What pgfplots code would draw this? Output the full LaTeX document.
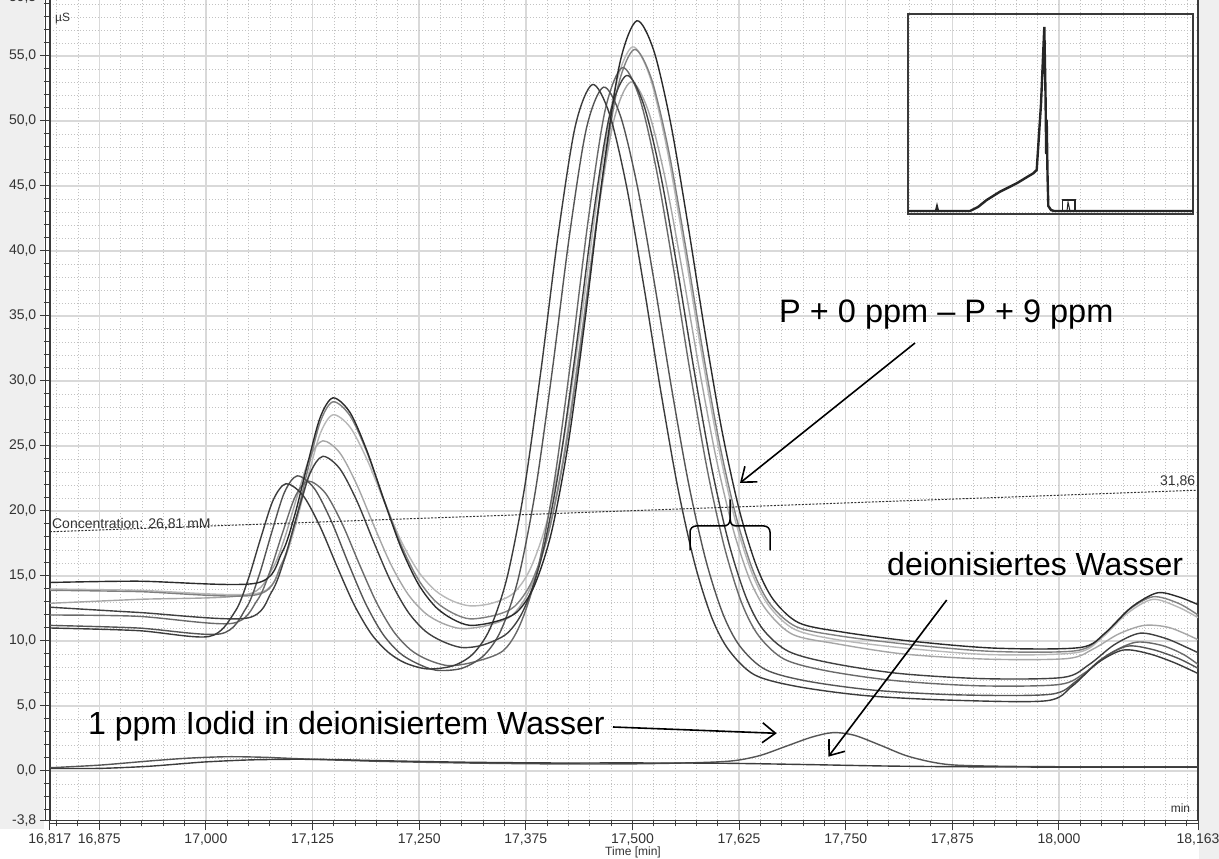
\documentclass[border=0pt]{standalone}
\usepackage{fontspec}
\setmainfont{Liberation Sans}
\usepackage{pgfplots}
\pgfplotsset{compat=1.18}
\usetikzlibrary{arrows.meta}
\definecolor{axisc}{HTML}{3A3A3A}
\definecolor{labc}{HTML}{333333}
\definecolor{bggray}{HTML}{EFEFEF}
\definecolor{gridmaj}{HTML}{D9D9D9}
\definecolor{gridmin}{HTML}{C2C2C2}
\definecolor{cA}{HTML}{3C3C3C}
\definecolor{cB}{HTML}{555555}
\definecolor{cC}{HTML}{6A6A6A}
\definecolor{cD}{HTML}{404040}
\definecolor{cE}{HTML}{A6A6A6}
\definecolor{cF}{HTML}{B8B8B8}
\definecolor{cG}{HTML}{808080}
\definecolor{cH}{HTML}{2B2B2B}
\begin{document}
\begin{tikzpicture}[x=1pt,y=1pt]
\fill[white] (0,0) rectangle (1219,859);
\fill[bggray] (0,30) rectangle (44,859);
\fill[bggray] (1199,0) rectangle (1219,859);
\begin{axis}[
  name=main,
  at={(49.8pt,38.6pt)}, anchor=south west, scale only axis,
  width=1148.2pt, height=822.9pt,
  xmin=16.817, xmax=18.163, ymin=-3.8, ymax=59.5,
  axis line style={draw=axisc, line width=1.5pt},
  xtick={16.817,16.875,17,17.125,17.25,17.375,17.5,17.625,17.75,17.875,18,18.163},
  xticklabels={{16,817},{16,875},{17,000},{17,125},{17,250},{17,375},{17,500},{17,625},{17,750},{17,875},{18,000},{18,163}},
  ytick={-3.8,0,5,10,15,20,25,30,35,40,45,50,55,59.5},
  yticklabels={{-3,8},{0,0},{5,0},{10,0},{15,0},{20,0},{25,0},{30,0},{35,0},{40,0},{45,0},{50,0},{55,0},{59,5}},
  minor xtick={16.825,16.85,...,18.15},
  minor ytick={-3,-2,...,59},
  grid=both,
  major grid style={gridmaj, line width=1.4pt},
  minor grid style={gridmin, line width=0.7pt, dash pattern=on 1.5pt off 1.5pt},
  tick align=outside,
  xtick pos=bottom, ytick pos=left,
  major tick length=10pt, minor tick length=6pt,
  tick style={axisc, line width=1pt},
  ticklabel style={font=\fontsize{14}{14}\selectfont, text=labc},
  every axis plot/.append style={line width=1.4pt, smooth},
]
% light curves first
\addplot[cF] coordinates {(16.817,14.0)(16.92,13.9)(17.059,13.65)(17.089,15.89)(17.104,18.67)(17.119,22.45)(17.134,25.95)(17.149,27.4)(17.169,26.45)(17.189,23.94)(17.209,20.72)(17.229,17.67)(17.249,15.35)(17.269,13.88)(17.289,13.08)(17.31,12.7)(17.335,12.9)(17.36,13.65)(17.38,15.51)(17.40,19.28)(17.42,25.72)(17.44,34.7)(17.46,44.64)(17.48,52.63)(17.50,55.7)(17.52,53.49)(17.54,48.02)(17.56,40.57)(17.58,32.55)(17.60,25.22)(17.62,19.41)(17.64,15.25)(17.66,12.7)(17.69,10.9)(17.74,10.1)(17.82,9.45)(17.92,8.95)(18.02,9.1)(18.05,10.23)(18.08,12.12)(18.11,13.2)(18.14,12.6)(18.163,11.8)};
\addplot[cE] coordinates {(16.817,12.9)(16.92,13.2)(17.047,13.55)(17.077,15.46)(17.092,17.86)(17.107,21.13)(17.122,24.15)(17.137,25.4)(17.157,24.47)(17.177,22.01)(17.197,18.86)(17.217,15.87)(17.237,13.59)(17.257,12.15)(17.277,11.37)(17.30,10.95)(17.33,11.2)(17.358,11.93)(17.378,13.74)(17.398,17.43)(17.418,23.71)(17.438,32.49)(17.458,42.2)(17.478,50.0)(17.498,53.0)(17.518,50.89)(17.538,45.7)(17.558,38.65)(17.578,31.05)(17.598,24.11)(17.618,18.61)(17.638,14.66)(17.658,12.3)(17.688,10.5)(17.738,9.8)(17.818,9.0)(17.918,8.6)(18.01,8.65)(18.04,9.38)(18.07,10.54)(18.10,11.2)(18.13,11.02)(18.163,10.1)};
\addplot[cG] coordinates {(16.817,13.9)(16.92,13.8)(17.059,13.55)(17.089,15.98)(17.104,18.98)(17.119,23.06)(17.134,26.84)(17.149,28.4)(17.169,27.32)(17.189,24.48)(17.209,20.83)(17.229,17.36)(17.249,14.73)(17.269,13.06)(17.289,12.16)(17.31,11.7)(17.34,12.0)(17.362,12.67)(17.382,14.57)(17.402,18.41)(17.422,24.96)(17.442,34.12)(17.462,44.24)(17.482,52.38)(17.502,55.5)(17.522,53.3)(17.542,47.87)(17.562,40.47)(17.582,32.5)(17.602,25.22)(17.622,19.45)(17.642,15.31)(17.662,12.8)(17.692,11.1)(17.742,10.4)(17.822,9.75)(17.922,9.2)(18.02,9.25)(18.05,10.36)(18.08,12.3)(18.11,13.4)(18.14,12.9)(18.163,12.0)};
\addplot[cC] coordinates {(16.817,12.0)(16.92,11.9)(17.03,11.35)(17.060,13.11)(17.075,15.33)(17.090,18.35)(17.105,21.15)(17.120,22.3)(17.140,21.38)(17.160,18.98)(17.180,15.89)(17.200,12.96)(17.220,10.73)(17.240,9.32)(17.260,8.56)(17.285,8.1)(17.315,8.4)(17.348,9.23)(17.368,11.21)(17.388,15.24)(17.408,22.11)(17.428,31.7)(17.448,42.3)(17.468,50.83)(17.488,54.1)(17.508,51.85)(17.528,46.29)(17.548,38.72)(17.568,30.55)(17.588,23.09)(17.608,17.18)(17.628,12.94)(17.648,10.4)(17.678,8.6)(17.728,7.7)(17.808,6.95)(17.908,6.55)(18.0,6.65)(18.03,7.54)(18.06,9.04)(18.09,9.9)(18.12,9.67)(18.145,9.0)(18.163,8.2)};
\addplot[cB] coordinates {(16.817,11.2)(16.92,11.0)(17.017,10.55)(17.047,12.52)(17.062,14.98)(17.077,18.32)(17.092,21.42)(17.107,22.7)(17.127,21.74)(17.147,19.22)(17.167,15.98)(17.187,12.91)(17.207,10.57)(17.227,9.09)(17.247,8.29)(17.27,7.75)(17.30,7.9)(17.326,8.9)(17.346,10.83)(17.366,14.75)(17.386,21.44)(17.406,30.78)(17.426,41.11)(17.446,49.41)(17.466,52.6)(17.486,50.38)(17.506,44.9)(17.526,37.44)(17.546,29.4)(17.566,22.06)(17.586,16.23)(17.606,12.1)(17.626,9.6)(17.656,7.8)(17.706,6.9)(17.786,6.2)(17.886,5.85)(17.99,5.9)(18.02,6.9)(18.05,8.62)(18.08,9.6)(18.11,9.34)(18.14,8.66)(18.163,7.9)};
\addplot[cD] coordinates {(16.817,12.6)(16.92,12.2)(17.047,11.75)(17.077,13.77)(17.092,16.29)(17.107,19.71)(17.122,22.89)(17.137,24.2)(17.157,23.25)(17.177,20.77)(17.197,17.57)(17.217,14.54)(17.237,12.23)(17.257,10.77)(17.277,9.98)(17.30,9.5)(17.325,9.7)(17.353,10.58)(17.373,12.47)(17.393,16.32)(17.413,22.89)(17.433,32.07)(17.453,42.21)(17.473,50.37)(17.493,53.5)(17.513,51.3)(17.533,45.88)(17.553,38.5)(17.573,30.55)(17.593,23.29)(17.613,17.53)(17.633,13.4)(17.653,10.9)(17.683,9.2)(17.733,8.3)(17.813,7.5)(17.913,7.1)(18.005,7.2)(18.035,8.17)(18.065,9.72)(18.095,10.6)(18.125,10.2)(18.15,9.5)(18.163,9.1)};
\addplot[cA] coordinates {(16.817,11.0)(16.92,10.8)(17.004,10.35)(17.034,12.25)(17.049,14.63)(17.064,17.86)(17.079,20.86)(17.094,22.1)(17.114,21.18)(17.134,18.78)(17.154,15.69)(17.174,12.76)(17.194,10.53)(17.214,9.12)(17.234,8.3)(17.26,7.85)(17.29,8.1)(17.313,9.0)(17.333,10.94)(17.353,14.87)(17.373,21.57)(17.393,30.93)(17.413,41.28)(17.433,49.6)(17.453,52.8)(17.473,50.56)(17.493,45.01)(17.513,37.45)(17.533,29.30)(17.553,21.86)(17.573,15.96)(17.593,11.8)(17.613,9.3)(17.643,7.4)(17.693,6.5)(17.773,5.8)(17.873,5.45)(17.985,5.4)(18.015,6.5)(18.045,8.3)(18.075,9.3)(18.105,9.03)(18.135,8.34)(18.163,7.5)};
\addplot[cH] coordinates {(16.817,14.5)(16.92,14.6)(17.059,14.45)(17.089,16.78)(17.104,19.66)(17.119,23.57)(17.134,27.2)(17.149,28.7)(17.169,27.57)(17.189,24.59)(17.209,20.77)(17.229,17.14)(17.249,14.38)(17.269,12.64)(17.289,11.69)(17.31,11.2)(17.34,11.5)(17.365,12.25)(17.385,14.25)(17.405,18.33)(17.425,25.29)(17.445,35.0)(17.465,45.74)(17.485,54.38)(17.505,57.7)(17.525,55.42)(17.545,49.77)(17.565,42.06)(17.585,33.76)(17.605,26.16)(17.625,20.15)(17.645,15.84)(17.665,13.2)(17.695,11.4)(17.745,10.7)(17.825,10.0)(17.925,9.45)(18.025,9.5)(18.055,10.66)(18.085,12.6)(18.115,13.7)(18.14,13.4)(18.163,12.8)};
% 1 ppm iodide
\addplot[color=cB] coordinates {(16.817,0.25)(16.875,0.45)(16.93,0.75)(16.97,0.95)(17.0,1.05)(17.03,1.1)(17.07,1.05)(17.125,0.9)(17.2,0.75)(17.3,0.62)(17.4,0.55)(17.5,0.55)(17.58,0.65)(17.62,0.8)(17.65,1.2)(17.68,1.9)(17.71,2.6)(17.735,2.95)(17.76,2.75)(17.79,2.0)(17.82,1.2)(17.85,0.7)(17.88,0.45)(17.95,0.35)(18.05,0.32)(18.163,0.32)};
% deionised water
\addplot[color=cA] coordinates {(16.817,0.2)(16.875,0.2)(16.93,0.35)(16.97,0.55)(17.0,0.7)(17.05,0.85)(17.1,0.9)(17.15,0.88)(17.2,0.8)(17.3,0.68)(17.4,0.62)(17.5,0.62)(17.6,0.6)(17.7,0.5)(17.8,0.38)(17.9,0.32)(18.0,0.3)(18.163,0.3)};
% concentration line
\addplot[color=labc, line width=1pt, dash pattern=on 2pt off 1.5pt, sharp plot] coordinates {(16.817,18.4)(18.163,21.6)};
\node[anchor=west, inner sep=0pt, text=labc, font=\fontsize{14}{14}\selectfont] at (axis cs:16.8195,19.0) {Concentration: 26,81 mM};
\node[anchor=east, inner sep=0pt, text=labc, font=\fontsize{14}{14}\selectfont] at (axis cs:18.160,22.3) {31,86};
\node[anchor=west, inner sep=0pt, text=labc, font=\fontsize{12}{12}\selectfont] at (axis cs:16.823,57.9) {µS};
\node[anchor=east, inner sep=0pt, text=labc, font=\fontsize{12}{12}\selectfont] at (axis cs:18.154,-2.85) {min};
\end{axis}
% double axis lines
\draw[axisc, line width=1.2pt] ([xshift=-4pt]main.south west) -- ([xshift=-4pt]main.north west);
\draw[axisc, line width=1.2pt] ([yshift=-3pt]main.south west) -- ([yshift=-3pt]main.south east);
\node[text=labc, font=\fontsize{12}{12}\selectfont] at (633,7) {Time [min]};
% inset
\begin{axis}[at={(908pt,645pt)}, anchor=south west, scale only axis, width=285pt, height=200pt,
  xmin=0, xmax=285, ymin=0, ymax=200, ticks=none,
  axis line style={draw=axisc, line width=2pt}]
\addplot[color=black!85, line width=2.4pt] coordinates {(0,3)(28,3)(29,7)(30,3)(62,3)(70,7)(78.7,14)(92,22.3)(108.7,30.7)(125.3,40.7)(128.7,44)(133,110)(136.3,187)(137.5,120)(138.2,60)(138.7,94)(139.5,40)(140.3,8)(143,4)(146,3)(285,3)};
\addplot[color=black!85, line width=1.3pt] coordinates {(154.7,2)(154.7,14)(167,14)(167,2)};
\addplot[color=black!85, line width=1pt] coordinates {(159,3)(160,12)(162,3)};
\end{axis}
% annotations
\node[anchor=west, inner sep=0pt, font=\fontsize{32.5}{33}\selectfont] at (779,544) {P + 0 ppm – P + 9 ppm};
\draw[line width=1.6pt, -{Straight Barb[length=13pt,width=20pt]}] (915,516) -- (740,376);
\draw[line width=1.5pt, line cap=round] (690,309) -- (690,327) to[out=90,in=180] (696,333) -- (724,333) to[out=0,in=-90] (730,339) -- (730,359);
\draw[line width=1.5pt, line cap=round] (730,339) to[out=-90,in=180] (736,333) -- (764,333) to[out=0,in=90] (770,327) -- (770,309);
\node[anchor=west, inner sep=0pt, font=\fontsize{32}{33}\selectfont] at (887,294.5) {deionisiertes Wasser};
\draw[line width=1.6pt, -{Straight Barb[length=13pt,width=20pt]}] (946.7,259) -- (828.3,102.3);
\node[anchor=west, inner sep=0pt, font=\fontsize{32}{33}\selectfont] at (88,132.5) {1 ppm Iodid in deionisiertem Wasser};
\draw[line width=1.6pt, -{Straight Barb[length=13pt,width=20pt]}] (613,132) -- (776.7,125.7);
\pgfresetboundingbox
\useasboundingbox (0,0) rectangle (1219,859);
\end{tikzpicture}
\end{document}
